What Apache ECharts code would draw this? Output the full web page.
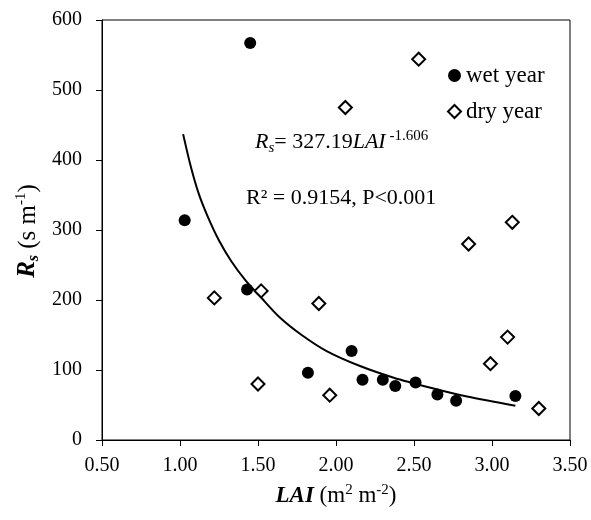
<!DOCTYPE html>
<html>
<head>
<meta charset="utf-8">
<script src="https://cdn.jsdelivr.net/npm/echarts@6/dist/echarts.min.js"></script>
<style>
  html, body { margin: 0; padding: 0; background: #fff; }
  #chart { width: 591px; height: 520px; }
</style>
</head>
<body>
<div id="chart"></div>
<script>
// wet year (filled circles): [LAI, Rs]
var wetYear = [
    [1.45, 567], [1.03, 314], [1.43, 215], [1.82, 96], [2.10, 127],
    [2.17, 86], [2.30, 86], [2.38, 77], [2.51, 82], [2.65, 65],
    [2.77, 56], [3.15, 63]
];
// dry year (open diamonds)
var dryYear = [
    [1.22, 203], [1.52, 213], [1.50, 80], [1.89, 195], [1.96, 64],
    [2.06, 475], [2.53, 544], [2.85, 280], [2.99, 109], [3.10, 147],
    [3.13, 311], [3.30, 45]
];
// fitted curve
var fitCurve = [
    [1.02, 437], [1.07, 390], [1.12, 352], [1.18, 318], [1.25, 285],
    [1.33, 255], [1.42, 228], [1.51, 206], [1.64, 175], [1.78, 150],
    [1.94, 127], [2.15, 106], [2.37, 89], [2.60, 75], [2.84, 62], [3.15, 49]
];
var seriesNames = ['wet year', 'dry year'];

var serif = '"Liberation Serif", "Times New Roman", serif';

var option = {
    backgroundColor: '#fff',
    animation: false,
    grid: {
        left: 102,
        right: 21,
        top: 20,
        bottom: 80,
        show: true,
        borderColor: '#000',
        borderWidth: 1
    },
    legend: {
        data: seriesNames,
        orient: 'vertical',
        left: 442,
        top: 59,
        itemWidth: 13,
        itemHeight: 13,
        itemGap: 13,
        textStyle: { fontFamily: serif, fontSize: 23, color: '#000', lineHeight: 23 }
    },
    xAxis: {
        type: 'value',
        min: 0.5,
        max: 3.5,
        interval: 0.5,
        name: '{b|LAI} (m{sup|2} m{sup|-2})',
        nameLocation: 'middle',
        nameGap: 43,
        nameTextStyle: {
            fontFamily: serif, fontSize: 23, color: '#000', lineHeight: 26,
            rich: {
                b: { fontFamily: serif, fontSize: 23, fontWeight: 'bold', fontStyle: 'italic', color: '#000', lineHeight: 26 },
                sup: { fontFamily: serif, fontSize: 15, color: '#000', verticalAlign: 'top', lineHeight: 26 }
            }
        },
        axisLine: { lineStyle: { color: '#000', width: 1 } },
        axisTick: { inside: false, length: 6, lineStyle: { color: '#000' } },
        axisLabel: {
            fontFamily: serif, fontSize: 20, color: '#000', margin: 16,
            formatter: function (v) { return v.toFixed(2); }
        },
        splitLine: { show: false }
    },
    yAxis: {
        type: 'value',
        min: 0,
        max: 600,
        interval: 100,
        axisLine: { show: true, lineStyle: { color: '#000', width: 1 } },
        axisTick: { show: true, inside: false, length: 6, lineStyle: { color: '#000' } },
        axisLabel: { fontFamily: serif, fontSize: 20, color: '#000', margin: 20 },
        splitLine: { show: false }
    },
    graphic: [
        {
            type: 'text',
            x: 28,
            y: 231,
            rotation: Math.PI / 2,
            style: {
                text: '{b|R}{sub|s} (s m{sup|-1})',
                align: 'center',
                verticalAlign: 'middle',
                font: '25px ' + serif,
                fill: '#000',
                rich: {
                    b: { fontFamily: serif, fontSize: 25, fontWeight: 'bold', fontStyle: 'italic', lineHeight: 28 },
                    sub: { fontFamily: serif, fontSize: 16, fontWeight: 'bold', fontStyle: 'italic', verticalAlign: 'bottom', lineHeight: 28 },
                    sup: { fontFamily: serif, fontSize: 15, verticalAlign: 'top', lineHeight: 28 }
                }
            }
        },
        {
            type: 'text',
            left: 255,
            top: 129,
            style: {
                text: '{i|R}{sub|s}= 327.19{i|LAI}{sup| -1.606}',
                font: '22px ' + serif,
                fill: '#000',
                rich: {
                    i: { fontFamily: serif, fontSize: 22, fontStyle: 'italic', lineHeight: 27 },
                    sub: { fontFamily: serif, fontSize: 15, fontStyle: 'italic', verticalAlign: 'bottom', lineHeight: 27 },
                    sup: { fontFamily: serif, fontSize: 15, verticalAlign: 'top', lineHeight: 27 }
                }
            }
        },
        {
            type: 'text',
            left: 246,
            top: 187,
            style: {
                text: 'R² = 0.9154, P<0.001',
                font: '22px ' + serif,
                fill: '#000'
            }
        }
    ],
    series: [
        {
            name: 'wet year',
            type: 'scatter',
            symbol: 'circle',
            symbolSize: 12,
            itemStyle: { color: '#000', opacity: 1 },
            data: wetYear,
            z: 3
        },
        {
            name: 'dry year',
            type: 'scatter',
            symbol: 'diamond',
            symbolSize: 13,
            itemStyle: { color: '#fff', borderColor: '#000', borderWidth: 2, opacity: 1 },
            data: dryYear,
            z: 3
        },
        {
            name: 'fit',
            type: 'line',
            smooth: 0.3,
            showSymbol: false,
            symbol: 'none',
            silent: true,
            lineStyle: { color: '#000', width: 2 },
            data: fitCurve,
            z: 2
        }
    ]
};

var chart = echarts.init(document.getElementById('chart'));
chart.setOption(option);
window.addEventListener('resize', chart.resize);
</script>
</body>
</html>
